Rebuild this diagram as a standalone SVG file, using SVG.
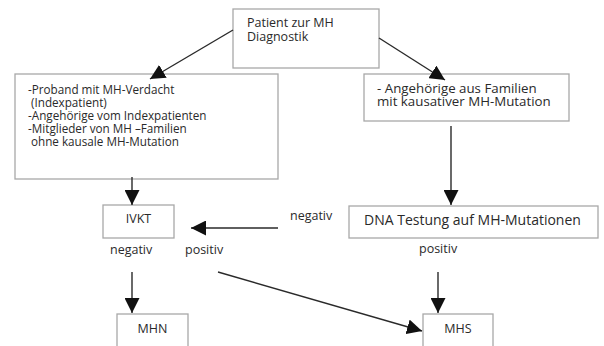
<svg xmlns="http://www.w3.org/2000/svg" width="604" height="346" viewBox="0 0 604 346">
<defs>
<style>
.box{fill:#fff;stroke:#a8a8a8;stroke-width:1.3}
.t{font-family:"Open Sans","Liberation Sans",sans-serif;font-size:12.5px;fill:#2a2a2a}
.s{font-size:11.7px}
.l{font-size:13.3px}
.c{stroke:#2a2a2a;stroke-width:1.4;fill:none;marker-end:url(#ah)}
</style>
<marker id="ah" viewBox="0 0 10 10" refX="10" refY="5" markerWidth="15" markerHeight="15" markerUnits="userSpaceOnUse" orient="auto">
<path d="M0,0 L10,5 L0,10 Z" fill="#111"/>
</marker>
</defs>
<rect width="604" height="346" fill="#fff"/>
<g id="n-patient">
<rect class="box" x="233" y="9" width="146" height="59"/>
<text class="t"><tspan x="247" y="27">Patient zur MH</tspan><tspan x="247" y="41">Diagnostik</tspan></text>
</g>
<g id="n-proband">
<rect class="box" x="15" y="74" width="263" height="105"/>
<text class="t s"><tspan x="28" y="94">-Proband mit MH-Verdacht</tspan><tspan x="31" y="107">(Indexpatient)</tspan><tspan x="28" y="120">-Angehörige vom Indexpatienten</tspan><tspan x="28" y="133">-Mitglieder von MH –Familien</tspan><tspan x="31" y="146">ohne kausale MH-Mutation</tspan></text>
</g>
<g id="n-angehoerige">
<rect class="box" x="364" y="74" width="205" height="47"/>
<text class="t l"><tspan x="377" y="93">- Angehörige aus Familien</tspan><tspan x="377" y="106">mit kausativer MH-Mutation</tspan></text>
</g>
<g id="n-ivkt">
<rect class="box" x="103" y="205" width="71" height="33"/>
<text class="t" x="138.5" y="223" text-anchor="middle">IVKT</text>
</g>
<g id="n-dna">
<rect class="box" x="349" y="206" width="249" height="32"/>
<text class="t" x="364" y="225" style="font-size:14px">DNA Testung auf MH-Mutationen</text>
</g>
<g id="n-mhn">
<rect class="box" x="117" y="314" width="71" height="40"/>
<text class="t" x="152.5" y="333" text-anchor="middle">MHN</text>
</g>
<g id="n-mhs">
<rect class="box" x="423" y="314" width="70" height="40"/>
<text class="t" x="458" y="333" text-anchor="middle">MHS</text>
</g>
<g id="connectors">
<line class="c" x1="233" y1="30" x2="150" y2="79"/>
<line class="c" x1="379" y1="38" x2="445" y2="80"/>
<line class="c" x1="132" y1="177" x2="132" y2="205"/>
<line class="c" x1="451" y1="126" x2="451" y2="205"/>
<line class="c" x1="278" y1="228" x2="191" y2="228"/>
<line class="c" x1="132" y1="272" x2="132" y2="313"/>
<line class="c" x1="438" y1="272" x2="438" y2="313"/>
<line class="c" x1="218" y1="272" x2="422" y2="331"/>
<text class="t" x="290" y="220">negativ</text>
<text class="t" x="110" y="254">negativ</text>
<text class="t" x="185" y="254">positiv</text>
<text class="t" x="419" y="253">positiv</text>
</g>
</svg>
